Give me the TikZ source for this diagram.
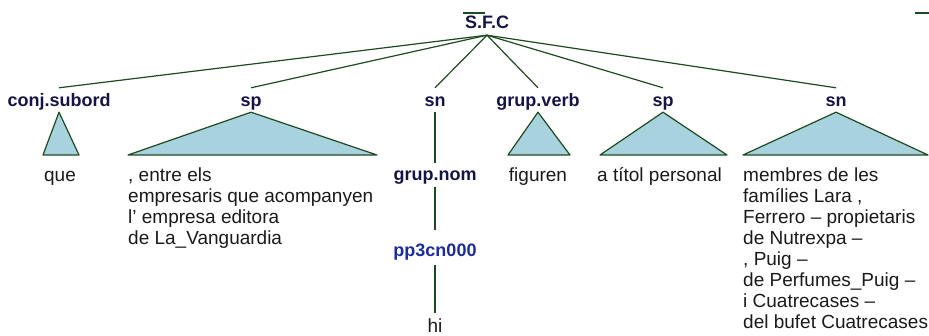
\documentclass[tikz,border=0pt]{standalone}
\usepackage{fontspec}
\setmainfont{Liberation Sans}
\definecolor{edgegreen}{HTML}{1F4A1F}
\definecolor{labnavy}{HTML}{141448}
\definecolor{posblue}{HTML}{1C2C9C}
\definecolor{trifill}{HTML}{A8D2DE}
\definecolor{wordgray}{HTML}{1A1A1A}
\tikzset{
  cat/.style={font=\fontsize{18pt}{20.9pt}\selectfont\bfseries, text=labnavy, anchor=base,
    inner xsep=0pt, inner ysep=1pt, text height=18pt, text depth=4pt},
  postag/.style={font=\fontsize{18pt}{20.9pt}\selectfont\bfseries, text=posblue, anchor=base,
    inner xsep=0pt, inner ysep=1pt},
  word/.style={font=\fontsize{19pt}{20.9pt}\selectfont, text=wordgray, inner sep=0pt},
  edge/.style={draw=edgegreen, line width=1.2pt},
  tri/.style={draw=edgegreen, line width=1.2pt, fill=trifill, line join=round},
}
\begin{document}
\begin{tikzpicture}[x=1pt,y=1pt]
\useasboundingbox (0,0) rectangle (929,-336);
% root
\node[cat, text height=13pt, text depth=5pt] (root) at (487,-29) {S.F.C};
% children labels
\node[cat] (l1) at (59,-107) {conj.subord};
\node[cat] (l2) at (251,-107) {sp};
\node[cat] (l3) at (435,-107) {sn};
\node[cat] (l4) at (538,-107) {grup.verb};
\node[cat] (l5) at (663,-107) {sp};
\node[cat] (l6) at (836,-107) {sn};
% sn chain
\node[cat, text height=17pt, text depth=5pt] (gnom) at (435,-181) {grup.nom};
\node[postag, text height=26pt, text depth=7pt] (pp) at (435,-257) {pp3cn000};
\node[word, anchor=base, inner ysep=1pt, text height=19pt] (hi) at (435,-333) {hi};
% edges from root
\foreach \c in {l1,l2,l3,l4,l5,l6} \draw[edge] (root.south) -- (\c.north);
\draw[edge] (l3.south) -- (gnom.north);
\draw[edge] (gnom.south) -- (pp.north);
\draw[edge] (pp.south) -- (hi.north);
% triangles
\draw[tri] (l1.south) -- (79,-155) -- (43,-155) -- cycle;
\draw[tri] (l2.south) -- (377,-155) -- (128,-155) -- cycle;
\draw[tri] (l4.south) -- (570,-155) -- (508,-155) -- cycle;
\draw[tri] (l5.south) -- (727,-155) -- (600,-155) -- cycle;
\draw[tri] (l6.south) -- (928,-155) -- (743,-155) -- cycle;
% leaf texts
\node[word, anchor=base] (w1) at (60,-182) {que};
\node[word, anchor=base west] (w2) at (128,-182) {\begin{tabular}[t]{@{}l@{}}, entre els\\empresaris que acompanyen\\l’ empresa editora\\de La\_Vanguardia\end{tabular}};
\node[word, anchor=base] (w4) at (538,-182) {figuren};
\node[word, anchor=base west] (w5) at (597,-182) {a títol personal};
\node[word, anchor=base west] (w6) at (743,-182) {\begin{tabular}[t]{@{}l@{}}membres de les\\famílies Lara ,\\Ferrero – propietaris\\de Nutrexpa –\\, Puig –\\de Perfumes\_Puig –\\i Cuatrecases –\\del bufet Cuatrecases\end{tabular}};
% small stray strokes
\draw[edge] (463,-13) -- (485,-13);
\draw[edge] (915,-13) -- (929,-13);
\end{tikzpicture}
\end{document}
